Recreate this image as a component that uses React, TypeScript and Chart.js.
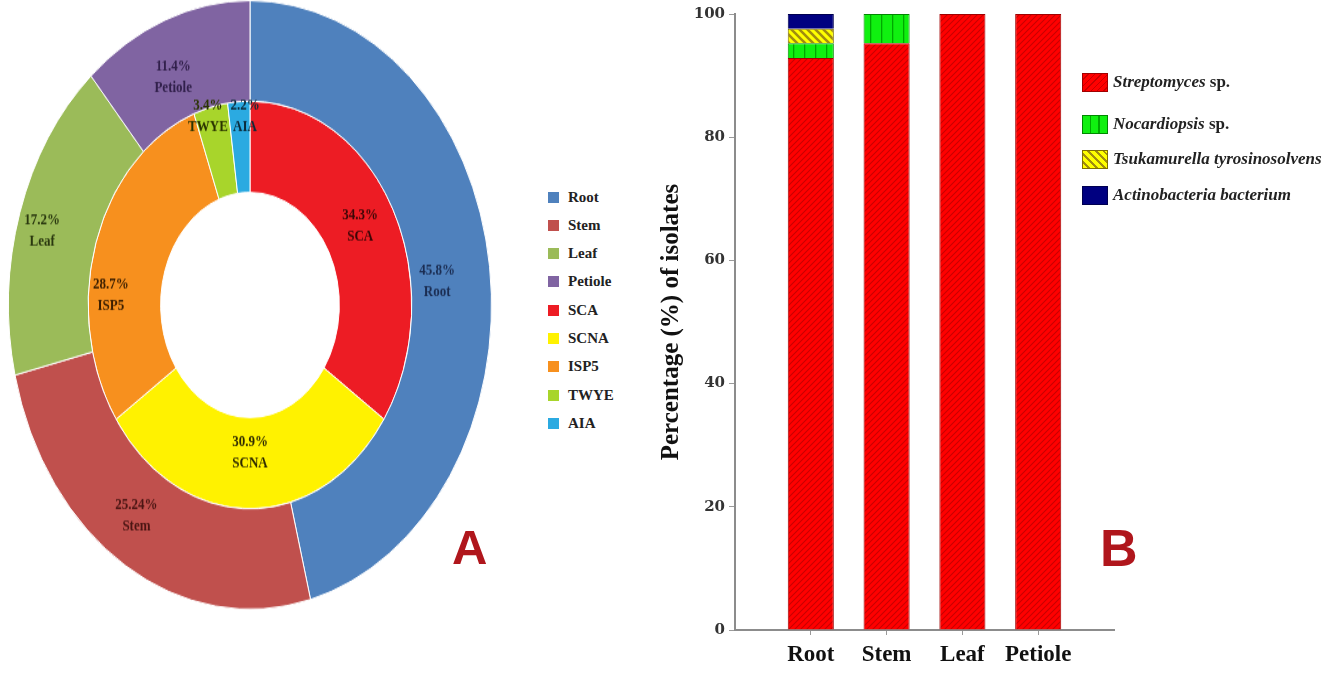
import React, { useEffect, useRef } from "react";
import { Chart, registerables } from "chart.js";
Chart.register(...registerables);

// ---------- Panel A : doughnut ----------
const tissueLabels = ["Root", "Stem", "Leaf", "Petiole"];
const tissueValues = [45.8, 25.24, 17.2, 11.4];
const tissueColors = ["#4F81BD", "#C0504D", "#9BBB59", "#8064A2"];
const tissueTextColors = ["#1b2d52", "#4a1513", "#2a380f", "#31204b"];

const mediaLabels = ["SCA", "SCNA", "ISP5", "TWYE", "AIA"];
const mediaValues = [34.3, 30.9, 28.7, 3.4, 2.2];
const mediaColors = ["#ED1C24", "#FFF200", "#F7901E", "#A8D52B", "#2BAAE1"];
const mediaTextColors = ["#3a0606", "#2e2a00", "#3a1e00", "#2a3300", "#0b2a3a"];

// where each slice label sits: fraction along the arc, fraction across the ring
const tissueLabelAlong = [0.51, 0.535, 0.47, 0.44];
const tissueLabelAcross = [0.33, 0.5, 0.68, 0.43];
const mediaLabelAlong = [0.485, 0.5, 0.36, 0.37, 0.76];
const mediaLabelAcross = [0.52, 0.385, 0.69, 0.91, 0.83];

const legendALabels = [...tissueLabels, ...mediaLabels];
const legendAColors = [...tissueColors, ...mediaColors];

// ---------- Panel B : stacked bars ----------
const barCategories = ["Root", "Stem", "Leaf", "Petiole"];
const streptomycesPct = [92.86, 95.24, 100, 100];
const nocardiopsisPct = [2.38, 4.76, 0, 0];
const tsukamurellaPct = [2.38, 0, 0, 0];
const actinobacteriaPct = [2.38, 0, 0, 0];
const yTickStep = 20;
const yMax = 100;

const serif = '"Liberation Serif", "Times New Roman", serif';

function makePattern(bg: string, line: string, kind: string): CanvasPattern | string {
  const c = document.createElement("canvas");
  const s = kind === "v" ? 11 : kind === "\\" ? 8 : 6;
  c.width = s;
  c.height = s;
  const g = c.getContext("2d");
  if (!g) return bg;
  g.fillStyle = bg;
  g.fillRect(0, 0, s, s);
  g.strokeStyle = line;
  g.fillStyle = line;
  if (kind === "v") {
    g.fillRect(0, 0, 1.3, s);
  } else if (kind === "/") {
    g.lineWidth = 1.1;
    g.beginPath();
    g.moveTo(-1, s + 1);
    g.lineTo(s + 1, -1);
    g.moveTo(-1, 1);
    g.lineTo(1, -1);
    g.moveTo(s - 1, s + 1);
    g.lineTo(s + 1, s - 1);
    g.stroke();
  } else {
    g.lineWidth = 2.6;
    g.beginPath();
    g.moveTo(-1, -1);
    g.lineTo(s + 1, s + 1);
    g.moveTo(-1, s - 1);
    g.lineTo(1, s + 1);
    g.moveTo(s - 1, -1);
    g.lineTo(s + 1, 1);
    g.stroke();
  }
  const p = g.createPattern(c, "repeat");
  return p || bg;
}

const sliceLabelPlugin = {
  id: "sliceLabels",
  afterDatasetsDraw(chart: any) {
    const ctx = chart.ctx;
    const sets = [
      { names: tissueLabels, vals: tissueValues, colors: tissueTextColors, along: tissueLabelAlong, across: tissueLabelAcross },
      { names: mediaLabels, vals: mediaValues, colors: mediaTextColors, along: mediaLabelAlong, across: mediaLabelAcross },
    ];
    sets.forEach((s, di) => {
      const meta = chart.getDatasetMeta(di);
      meta.data.forEach((arc: any, i: number) => {
        const p = arc.getProps(["x", "y", "startAngle", "endAngle", "innerRadius", "outerRadius"], true);
        const a = p.startAngle + (p.endAngle - p.startAngle) * s.along[i];
        const r = p.innerRadius + (p.outerRadius - p.innerRadius) * s.across[i];
        const px = p.x + Math.cos(a) * r;
        const py = p.y + Math.sin(a) * r;
        ctx.save();
        ctx.font = `bold 13px ${serif}`;
        ctx.fillStyle = s.colors[i];
        ctx.textAlign = "center";
        ctx.textBaseline = "middle";
        ctx.fillText(`${s.vals[i]}%`, px, py - 8.5);
        ctx.fillText(s.names[i], px, py + 8.5);
        ctx.restore();
      });
    });
  },
};

function Doughnut() {
  const ref = useRef<HTMLCanvasElement | null>(null);
  useEffect(() => {
    if (!ref.current) return;
    const chart = new Chart(ref.current, {
      type: "doughnut",
      data: {
        labels: tissueLabels,
        datasets: [
          { data: tissueValues, backgroundColor: tissueColors, borderColor: "#ffffff", borderWidth: 1, weight: 1.1 } as any,
          { data: mediaValues, backgroundColor: mediaColors, borderColor: "#ffffff", borderWidth: 1, weight: 1 } as any,
        ],
      },
      options: {
        animation: false,
        responsive: true,
        maintainAspectRatio: false,
        cutout: "37%",
        layout: { padding: 0 },
        plugins: { legend: { display: false }, tooltip: { enabled: false } },
      },
      plugins: [sliceLabelPlugin],
    });
    return () => chart.destroy();
  }, []);
  return <canvas ref={ref} style={{ display: "block" }} />;
}

function Bars() {
  const ref = useRef<HTMLCanvasElement | null>(null);
  useEffect(() => {
    if (!ref.current) return;
    const red = makePattern("#FF0000", "#C80000", "/");
    const green = makePattern("#10F010", "#00A800", "v");
    const yellow = makePattern("#FFFF00", "#A08C10", "\\");
    const pad = (arr: number[]) => [null, ...arr, null];
    const bw = (c: any) => (c.raw ? 1 : 0);
    const lastIdx = barCategories.length + 1;
    const chart = new Chart(ref.current, {
      type: "bar",
      data: {
        labels: ["", ...barCategories, ""],
        datasets: [
          { label: "Streptomyces sp.", data: pad(streptomycesPct), backgroundColor: red, borderColor: "#A00000", borderWidth: bw },
          { label: "Nocardiopsis sp.", data: pad(nocardiopsisPct), backgroundColor: green, borderColor: "#008800", borderWidth: bw },
          { label: "Tsukamurella tyrosinosolvens", data: pad(tsukamurellaPct), backgroundColor: yellow, borderColor: "#807000", borderWidth: bw },
          { label: "Actinobacteria bacterium", data: pad(actinobacteriaPct), backgroundColor: "#000080", borderColor: "#000050", borderWidth: bw },
        ] as any,
      },
      options: {
        animation: false,
        responsive: true,
        maintainAspectRatio: false,
        layout: { padding: { top: 14, left: 0, right: 0, bottom: 0 } },
        plugins: { legend: { display: false }, tooltip: { enabled: false } },
        datasets: { bar: { categoryPercentage: 0.8, barPercentage: 0.76 } },
        scales: {
          x: {
            stacked: true,
            offset: false,
            grid: {
              display: true,
              offset: false,
              drawOnChartArea: false,
              drawTicks: true,
              tickLength: 5,
              tickColor: (c: any) => (c.index === 0 || c.index === lastIdx ? "rgba(0,0,0,0)" : "#9a9a9a"),
            },
            border: { color: "#8c8c8c", width: 2 },
            ticks: { autoSkip: false, maxRotation: 0, padding: 6, color: "#111", font: { family: serif, size: 23, weight: "bold" } },
            afterFit: (s: any) => {
              s.height = 45;
            },
          },
          y: {
            stacked: true,
            min: 0,
            max: yMax,
            grid: { display: true, drawOnChartArea: false, drawTicks: true, tickLength: 6, tickColor: "#9a9a9a" },
            border: { color: "#8c8c8c", width: 2 },
            ticks: { stepSize: yTickStep, padding: 4, color: "#333", font: { family: '"DejaVu Serif", serif', size: 15, weight: "bold" } },
            title: {
              display: true,
              text: "Percentage (%) of isolates",
              color: "#111",
              font: { family: serif, size: 25, weight: "bold" },
              padding: { top: 7, bottom: 0 },
            },
            afterFit: (s: any) => {
              s.width = 85;
            },
          },
        },
      } as any,
    });
    return () => chart.destroy();
  }, []);
  return <canvas ref={ref} style={{ display: "block" }} />;
}

const legendBItems = [
  { italic: "Streptomyces", rest: " sp.", swatch: "repeating-linear-gradient(135deg, #FF0000 0 3.5px, #C80000 3.5px 4.5px)", border: "#A00000" },
  { italic: "Nocardiopsis", rest: " sp.", swatch: "repeating-linear-gradient(90deg, #10F010 0 7px, #00A800 7px 8.3px)", border: "#008800" },
  { italic: "Tsukamurella tyrosinosolvens", rest: "", swatch: "repeating-linear-gradient(45deg, #FFFF00 0 3.5px, #A08C10 3.5px 5.5px)", border: "#807000" },
  { italic: "Actinobacteria bacterium", rest: "", swatch: "#000080", border: "#000050" },
];
const legendBCenters = [82, 124, 159, 195];

export default function App() {
  return (
    <div style={{ position: "fixed", left: 0, top: 0, width: 1338, height: 675, background: "#fff", overflow: "hidden", fontFamily: serif }}>
      {/* Panel A doughnut, vertically stretched like the original figure */}
      <div style={{ position: "absolute", left: 8, top: 0, width: 484, height: 484, transform: "scaleY(1.26)", transformOrigin: "top left" }}>
        <Doughnut />
      </div>
      {/* Panel A legend */}
      {legendALabels.map((lab, i) => (
        <div
          key={lab}
          style={{ position: "absolute", left: 548, top: 197 + i * 28.3 - 10, height: 20, display: "flex", alignItems: "center", fontSize: 15, fontWeight: "bold", color: "#222" }}
        >
          <span style={{ display: "inline-block", width: 11, height: 11, background: legendAColors[i], marginRight: 9 }} />
          <span>{lab}</span>
        </div>
      ))}
      <div style={{ position: "absolute", left: 452, top: 523, zIndex: 2, fontFamily: '"Liberation Sans", Arial, sans-serif', fontWeight: "bold", fontSize: 49, lineHeight: 1, color: "#B0161C" }}>A</div>

      {/* Panel B bars */}
      <div style={{ position: "absolute", left: 650, top: 0, width: 470, height: 675 }}>
        <Bars />
      </div>
      {/* Panel B legend */}
      {legendBItems.map((it, i) => (
        <div
          key={it.italic}
          style={{ position: "absolute", left: 1082, top: legendBCenters[i] - 10, height: 20, display: "flex", alignItems: "center", whiteSpace: "nowrap", fontSize: 17, fontWeight: "bold", color: "#222" }}
        >
          <span style={{ display: "inline-block", width: 24, height: 17, background: it.swatch, border: `1px solid ${it.border}`, marginRight: 5 }} />
          <span>
            <i>{it.italic}</i>
            {it.rest}
          </span>
        </div>
      ))}
      <div style={{ position: "absolute", left: 1100, top: 522, zIndex: 2, fontFamily: '"Liberation Sans", Arial, sans-serif', fontWeight: "bold", fontSize: 52, lineHeight: 1, color: "#B0161C" }}>B</div>
    </div>
  );
}
